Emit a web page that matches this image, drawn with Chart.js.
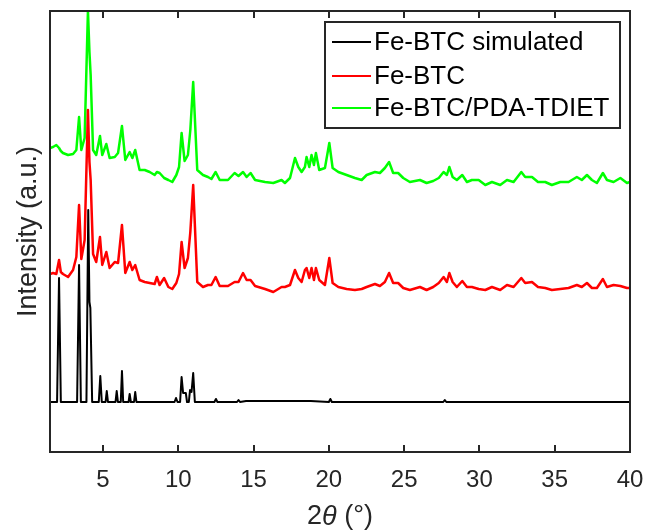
<!DOCTYPE html>
<html>
<head>
<meta charset="utf-8">
<script src="https://cdn.jsdelivr.net/npm/chart.js@4.4.1/dist/chart.umd.min.js"></script>
<style>
  html, body { margin: 0; padding: 0; background: #fff; }
  #wrap { width: 648px; height: 532px; }
</style>
</head>
<body>
<div id="wrap"><canvas id="xrd" width="648" height="532"></canvas></div>
<script>
// XRD patterns, intensities in arbitrary units (offset traces)
// values

var seriesNames = ['Fe-BTC simulated', 'Fe-BTC', 'Fe-BTC/PDA-TDIET'];
var seriesColors = ['#000000', '#ff0000', '#00ff00'];
var xTicks = [5, 10, 15, 20, 25, 30, 35, 40];

// simulated pattern: sharp peaks on a flat baseline
var simTheta = [1.48, 1.95, 2.08, 2.2, 3.28, 3.41, 3.53, 3.9, 4.02, 4.1, 4.16, 4.28,
  4.72, 4.82, 4.92, 5.17, 5.25, 5.33, 5.83, 5.91, 5.99, 6.18, 6.26, 6.34,
  6.7, 6.77, 6.85, 7.06, 7.14, 7.22, 9.75, 9.85, 9.95, 10.12, 10.22, 10.32,
  10.5, 10.58, 10.7, 10.78, 10.88, 10.99, 11.1, 12.4, 12.5, 12.6, 13.9, 14.0,
  14.1, 14.5, 17.8, 18.8, 20.0, 20.1, 20.2, 27.6, 27.7, 27.8, 40.0];
var simIntensity = [50, 50, 174, 50, 50, 187, 50, 50, 242, 150, 144, 50,
  50, 76, 50, 50, 61, 50, 50, 61, 50, 50, 81, 50,
  50, 58, 50, 50, 60, 50, 50, 54, 50, 50, 75, 59,
  59, 50, 50, 62, 60, 79, 50, 50, 53, 50, 50, 52,
  50, 51, 51, 51, 50, 53, 50, 50, 52, 50, 50];

// measured patterns share one angle list
var expTheta = [1.48, 1.68, 1.9, 2.08, 2.2, 2.34, 2.68, 3.01, 3.23, 3.41,
  3.56, 3.78, 4.0, 4.1, 4.18, 4.34, 4.55, 4.8, 4.95, 5.22,
  5.44, 5.78, 6.0, 6.26, 6.48, 6.77, 6.95, 7.14, 7.43, 7.77,
  8.1, 8.43, 8.58, 8.76, 9.06, 9.34, 9.6, 9.87, 10.05, 10.22,
  10.42, 10.64, 10.8, 10.99, 11.26, 11.64, 11.97, 12.2, 12.48, 12.75,
  13.3, 13.74, 14.0, 14.3, 14.54, 14.8, 15.1, 15.76, 16.31, 16.86,
  17.08, 17.42, 17.75, 17.97, 18.19, 18.41, 18.52, 18.7, 18.85, 19.01,
  19.14, 19.36, 19.74, 20.03, 20.25, 20.63, 21.18, 21.73, 22.18, 22.51,
  23.06, 23.39, 23.72, 24.0, 24.27, 24.6, 24.94, 25.38, 26.05, 26.49,
  26.93, 27.3, 27.62, 27.84, 28.0, 28.22, 28.5, 28.86, 29.17, 29.5,
  29.95, 30.39, 30.83, 31.38, 31.83, 32.27, 32.78, 33.04, 33.49, 33.89,
  34.37, 34.81, 35.37, 35.92, 36.47, 36.8, 37.14, 37.47, 37.8, 38.2,
  38.47, 38.91, 39.36, 39.8, 40.0];
var feIntensity = [178, 179, 178, 192, 180, 178, 175, 182, 195, 247,
  193, 212, 342, 290, 272, 198, 190, 215, 187, 200,
  184, 190, 189, 227, 179, 190, 182, 187, 172, 170,
  169, 168, 175, 167, 174, 165, 163, 169, 178, 210,
  184, 194, 220, 267, 170, 165, 167, 167, 175, 166,
  166, 170, 170, 179, 172, 172, 166, 163, 160, 165,
  165, 167, 182, 174, 170, 182, 184, 174, 184, 172,
  184, 172, 167, 194, 169, 165, 163, 162, 163, 165,
  168, 166, 170, 179, 169, 169, 164, 162, 165, 162,
  165, 169, 175, 170, 179, 170, 165, 171, 165, 165,
  163, 162, 165, 162, 167, 165, 174, 169, 170, 165,
  164, 162, 163, 164, 167, 165, 169, 164, 164, 173,
  165, 167, 166, 164, 164];
var pdaIntensity = [304, 305, 307, 304, 301, 299, 297, 298, 302, 335,
  302, 314, 441, 400, 377, 302, 297, 316, 297, 308,
  294, 295, 299, 326, 292, 300, 294, 302, 282, 282,
  280, 277, 280, 279, 274, 272, 270, 277, 285, 319,
  291, 297, 322, 370, 282, 277, 275, 273, 280, 272,
  272, 279, 276, 280, 275, 279, 272, 270, 269, 272,
  269, 274, 294, 285, 280, 285, 295, 285, 297, 287,
  299, 282, 284, 309, 284, 280, 277, 274, 272, 277,
  280, 279, 284, 290, 279, 279, 274, 270, 272, 269,
  271, 274, 280, 277, 285, 275, 272, 277, 270, 272,
  272, 267, 270, 267, 272, 270, 280, 275, 275, 270,
  270, 267, 270, 270, 275, 272, 277, 272, 269, 279,
  272, 270, 274, 269, 270];

var axisColor = '#262626';
var fontFamily = '"Liberation Sans", Arial, Helvetica, sans-serif';

function toPoints(xs, ys) {
  return xs.map(function (x, i) { return { x: x, y: ys[i] }; });
}

// box, inward ticks, legend and x title, MATLAB style
var framePlugin = {
  id: 'frame',
  afterDraw: function (chart) {
    var ctx = chart.ctx;
    var a = chart.chartArea;
    var xs = chart.scales.x;
    ctx.save();
    ctx.strokeStyle = axisColor;
    ctx.lineWidth = 2;
    ctx.strokeRect(a.left, a.top, a.right - a.left, a.bottom - a.top);
    ctx.beginPath();
    xTicks.forEach(function (v) {
      var px = Math.round(xs.getPixelForValue(v));
      ctx.moveTo(px, a.bottom);
      ctx.lineTo(px, a.bottom - 7);
      ctx.moveTo(px, a.top);
      ctx.lineTo(px, a.top + 7);
    });
    ctx.stroke();

    // legend
    var lx = 325, ly = 22, lw = 295, lh = 106;
    var rows = [42, 76, 108];
    ctx.fillStyle = '#fff';
    ctx.fillRect(lx, ly, lw, lh);
    ctx.strokeStyle = axisColor;
    ctx.lineWidth = 2;
    ctx.strokeRect(lx, ly, lw, lh);
    ctx.font = '26px ' + fontFamily;
    ctx.textBaseline = 'middle';
    ctx.textAlign = 'left';
    chart.data.datasets.forEach(function (ds, i) {
      ctx.strokeStyle = ds.borderColor;
      ctx.lineWidth = 2;
      ctx.beginPath();
      ctx.moveTo(332, rows[i]);
      ctx.lineTo(371, rows[i]);
      ctx.stroke();
      ctx.fillStyle = '#000';
      ctx.fillText(ds.label, 374, rows[i] + 1);
    });

    // x axis title: 2θ (°) with italic theta
    var normal = '27px ' + fontFamily;
    var italic = 'italic 27px ' + fontFamily;
    ctx.fillStyle = axisColor;
    ctx.font = normal;
    var w1 = ctx.measureText('2').width;
    var w3 = ctx.measureText(' (°)').width;
    ctx.font = italic;
    var w2 = ctx.measureText('θ').width;
    var x0 = (a.left + a.right) / 2 - (w1 + w2 + w3) / 2;
    var ty = 517;
    ctx.font = normal;
    ctx.fillText('2', x0, ty);
    ctx.font = italic;
    ctx.fillText('θ', x0 + w1, ty);
    ctx.font = normal;
    ctx.fillText(' (°)', x0 + w1 + w2, ty);
    ctx.restore();
  }
};

new Chart(document.getElementById('xrd'), {
  type: 'line',
  data: {
    datasets: [
      { label: seriesNames[0], data: toPoints(simTheta, simIntensity), borderColor: seriesColors[0], borderWidth: 2 },
      { label: seriesNames[1], data: toPoints(expTheta, feIntensity), borderColor: seriesColors[1], borderWidth: 2.5 },
      { label: seriesNames[2], data: toPoints(expTheta, pdaIntensity), borderColor: seriesColors[2], borderWidth: 2.5 }
    ]
  },
  options: {
    responsive: false,
    animation: false,
    devicePixelRatio: 1,
    layout: { padding: { top: 11, right: 18, left: 0, bottom: 0 } },
    elements: { point: { radius: 0 }, line: { tension: 0, borderJoinStyle: 'round' } },
    plugins: { legend: { display: false }, tooltip: { enabled: false } },
    scales: {
      x: {
        type: 'linear',
        min: 1.48,
        max: 40,
        grid: { display: false, drawTicks: false },
        border: { display: false },
        ticks: {
          font: { family: fontFamily, size: 24 },
          color: axisColor,
          padding: 14,
          maxRotation: 0,
          autoSkip: false
        },
        afterBuildTicks: function (scale) {
          scale.ticks = xTicks.map(function (v) { return { value: v }; });
        },
        afterFit: function (scale) {
          scale.height = 80;
          scale.paddingLeft = 0;
          scale.paddingRight = 0;
        }
      },
      y: {
        min: 0,
        max: 441,
        grid: { display: false, drawTicks: false },
        border: { display: false },
        ticks: { display: false },
        title: {
          display: true,
          text: 'Intensity (a.u.)',
          font: { family: fontFamily, size: 27 },
          color: axisColor,
          padding: { top: 12, bottom: 0 }
        },
        afterFit: function (scale) { scale.width = 50; }
      }
    }
  },
  plugins: [framePlugin]
});
</script>
</body>
</html>
